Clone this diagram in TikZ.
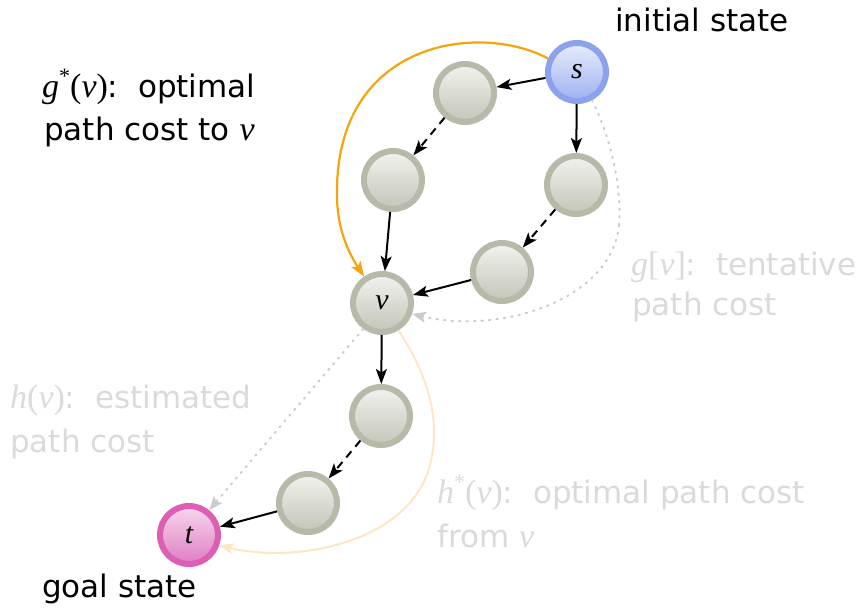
\documentclass[tikz,border=0pt]{standalone}
\usepackage{fontspec}
\setmainfont{DejaVu Sans}
\newfontfamily\ser{Liberation Serif}
\usetikzlibrary{arrows.meta}
\definecolor{nodeborder}{HTML}{B7BAA9}
\definecolor{nodetop}{HTML}{F2F3EF}
\definecolor{nodebot}{HTML}{C2C5B7}
\definecolor{sborder}{HTML}{8CA2EC}
\definecolor{stop}{HTML}{E8EDFC}
\definecolor{sbot}{HTML}{9DB0F0}
\definecolor{tborder}{HTML}{DC5FB4}
\definecolor{ttop}{HTML}{F6D8EC}
\definecolor{tbot}{HTML}{E07CC4}
\definecolor{orangeline}{HTML}{F6A40C}
\definecolor{peach}{HTML}{FDE6C6}
\definecolor{dotgray}{HTML}{CCCCCC}
\definecolor{faint}{HTML}{DADADA}
\newcommand{\mi}[1]{{\ser\itshape\fontsize{34}{34}\selectfont #1}}
\newcommand{\mr}[1]{{\ser\fontsize{34}{34}\selectfont #1}}
\newcommand{\nodeit}[1]{{\ser\itshape #1}}
\newcommand{\st}{\raisebox{0.42em}{\ser\fontsize{22}{22}\selectfont *}}
\tikzset{
  statenode/.style={circle, minimum size=58pt, inner sep=0pt, line width=6pt,
    draw=nodeborder, top color=nodetop, bottom color=nodebot,
    font=\fontsize{30}{30}\selectfont},
  snode/.style={statenode, draw=sborder, top color=stop, bottom color=sbot},
  tnode/.style={statenode, draw=tborder, top color=ttop, bottom color=tbot},
  edge/.style={line width=2pt, -{Stealth[length=15pt,width=11pt,inset=3.5pt]}},
  dashedge/.style={edge, dash pattern=on 8pt off 6pt},
  lbl/.style={anchor=base west, inner sep=0pt, font=\fontsize{31}{31}\selectfont},
  faintlbl/.style={lbl, text=faint},
}
\begin{document}
\begin{tikzpicture}[x=1pt,y=-1pt]
\useasboundingbox (0,0) rectangle (860,611);
% nodes
\node[snode] (s) at (577,72) {\nodeit{s}};
\node[statenode] (a1) at (465,93) {};
\node[statenode] (a2) at (393,180) {};
\node[statenode] (b1) at (576,185) {};
\node[statenode] (b2) at (502,272) {};
\node[statenode] (v) at (382,303) {\nodeit{v}};
\node[statenode] (c1) at (381,416) {};
\node[statenode] (c2) at (308,503) {};
\node[tnode] (t) at (189,535) {\nodeit{t}};
% edges
\draw[edge] (s) -- (a1);
\draw[dashedge] (a1) -- (a2);
\draw[edge] (s) -- (b1);
\draw[dashedge] (b1) -- (b2);
\draw[edge] (a2) -- (v);
\draw[edge] (b2) -- (v);
\draw[edge] (v) -- (c1);
\draw[dashedge] (c1) -- (c2);
\draw[edge] (c2) -- (t);
% g* curve
\coordinate (gm) at (337,195);
\draw[line width=2.2pt, orangeline] (s.155) .. controls (480,22) and (335,40) .. (gm);
\draw[line width=2.2pt, orangeline, -{Stealth[length=15pt,width=11pt,inset=3.5pt]}] (gm) .. controls (337,228) and (348,252) .. (v.124);
% g[v] dotted
\coordinate (gd) at (619,225);
\draw[line width=2pt, dotgray, dash pattern=on 1.5pt off 6pt, line cap=round] (s.-62) .. controls (612,140) and (622,190) .. (gd);
\draw[line width=2pt, dotgray, dash pattern=on 1.5pt off 6pt, line cap=round, -{Stealth[length=14pt,width=11pt,inset=3pt,line cap=butt]}] (gd) .. controls (612,300) and (500,335) .. (v.-20);
% h(v) dotted
\draw[line width=2pt, dotgray, dash pattern=on 1.5pt off 6pt, line cap=round, -{Stealth[length=14pt,width=11pt,inset=3pt,line cap=butt]}] (v.234) -- (t.51);
% h* curve
\coordinate (hm) at (432,455);
\draw[line width=2pt, peach] (v.-59) .. controls (425,370) and (440,415) .. (hm);
\draw[line width=2pt, peach, -{Stealth[length=14pt,width=11pt,inset=3pt]}] (hm) .. controls (420,540) and (300,565) .. (t.-19);
% labels
\node[lbl] (init) at (615,31) {initial state};
\node[lbl] (goal) at (42,597) {goal state};
\node[lbl] (gs1) at (42,97) {\mi{g}\st\mr{(}\mi{v}\mr{)}:\ \ optimal};
\node[lbl] (gs2) at (44,140) {path cost to \mi{v}};
\node[faintlbl] (gt1) at (631,275) {\mi{g}\mr{[}\mi{v}\mr{]}:\ \ tentative};
\node[faintlbl] (gt2) at (632,315) {path cost};
\node[faintlbl] (he1) at (10,408) {\mi{h}\mr{(}\mi{v}\mr{)}:\ \ estimated};
\node[faintlbl] (he2) at (10,452) {path cost};
\node[faintlbl] (hs1) at (437,503) {\mi{h}\st\mr{(}\mi{v}\mr{)}:\ \ optimal path cost};
\node[faintlbl] (hs2) at (437,547) {from \mi{v}};
\end{tikzpicture}
\end{document}
